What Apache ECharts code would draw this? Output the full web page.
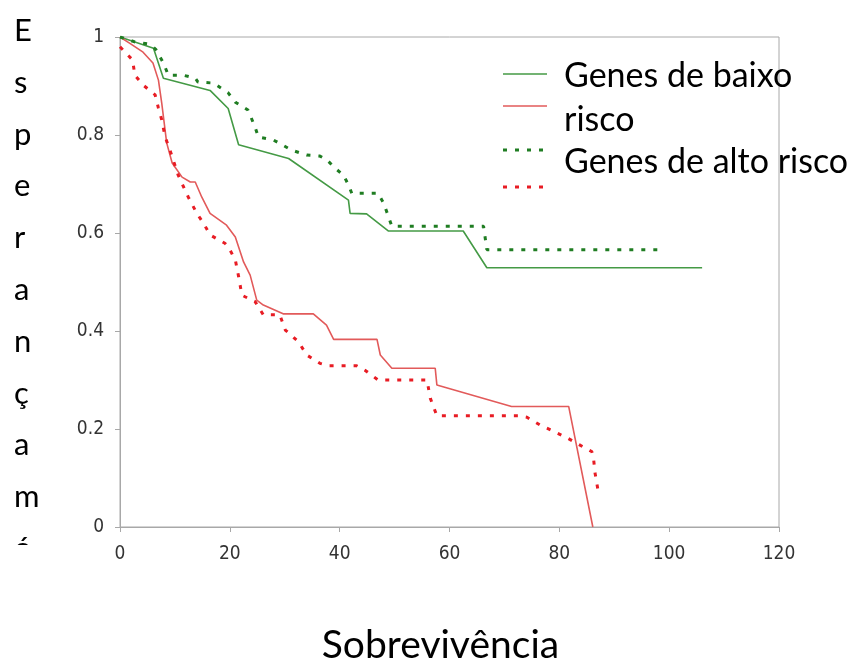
<!DOCTYPE html>
<html>
<head>
<meta charset="utf-8">
<script src="https://cdn.jsdelivr.net/npm/echarts@6/dist/echarts.min.js"></script>
<style>html,body{margin:0;padding:0;background:#fff;overflow:hidden;}#chart{width:853px;height:659px;}</style>
</head>
<body>
<div id="chart"></div>
<script>
// Survival (time, probability) pairs
const lowRiskSolid = [[0,1],[6.1,0.977],[7.9,0.916],[16.4,0.891],[19.7,0.854],[21.6,0.78],[30.7,0.752],[41.6,0.667],[41.9,0.64],[44.9,0.639],[48.9,0.604],[62.5,0.604],[66.8,0.529],[106,0.529]];
const highRiskSolid = [[0,1],[1.8,0.987],[4.2,0.969],[6,0.947],[7,0.912],[7.6,0.865],[8.5,0.784],[9.5,0.743],[11.3,0.714],[12.8,0.704],[13.7,0.704],[14.9,0.673],[16.4,0.64],[19.4,0.616],[21,0.592],[22.5,0.541],[23.7,0.514],[24.9,0.463],[26.1,0.453],[29.7,0.435],[35.2,0.435],[37.6,0.412],[38.9,0.383],[46.8,0.383],[47.4,0.351],[49.5,0.324],[57.4,0.324],[57.7,0.29],[71.3,0.246],[81.7,0.246],[86.1,0]];
const lowRiskDotted = [[0,1],[2.7,0.99],[5.5,0.985],[6.5,0.975],[7.9,0.947],[8.8,0.922],[11.5,0.922],[13.7,0.916],[14.2,0.908],[17,0.906],[19.7,0.886],[21,0.867],[23.3,0.851],[24.6,0.816],[25.2,0.796],[27.9,0.79],[31.3,0.769],[34,0.759],[36.4,0.757],[37.6,0.75],[39.2,0.732],[40.7,0.718],[41.6,0.698],[42.2,0.681],[47,0.681],[48,0.661],[48.9,0.633],[49.5,0.614],[66.2,0.614],[66.8,0.566],[98.7,0.566]];
const highRiskDotted = [[0,0.98],[2.3,0.953],[2.7,0.922],[4.2,0.902],[6.4,0.882],[7,0.855],[7.6,0.831],[8.2,0.797],[9.1,0.769],[10.6,0.718],[12.4,0.674],[14,0.64],[15.2,0.62],[16.4,0.596],[19.1,0.579],[19.7,0.572],[21,0.545],[21.6,0.511],[22.2,0.473],[24.6,0.46],[26.1,0.433],[29.1,0.433],[30.1,0.402],[32.5,0.378],[34,0.351],[36.4,0.334],[37.9,0.329],[43.1,0.329],[44.6,0.32],[47,0.3],[55.9,0.3],[56.5,0.263],[57.7,0.227],[72.6,0.227],[74.1,0.224],[76.5,0.208],[79,0.195],[81.4,0.182],[83.6,0.168],[85.9,0.154],[86.2,0.143],[86.5,0.11],[87,0.078]];
const legendLines = ['Genes de baixo', 'risco', 'Genes de alto risco'];
const yTitleLetters = ['E','s','p','e','r','a','n','ç','a','m','ó'];
const xTitle = 'Sobrevivência';

const GREEN = '#449a45', GREEN_D = '#1f7d22', RED = '#e25a5a', RED_D = '#e81c24';
const AXIS_C = '#a8a8a8';
const labelFont = "'DejaVu Sans Condensed','Liberation Sans Narrow','Liberation Sans',sans-serif";
const textFont = "Lato,'Open Sans',sans-serif";

const chart = echarts.init(document.getElementById('chart'), null, {renderer: 'canvas'});

const legendGraphics = [];
const sampleX0 = 503, sampleX1 = 547;
[[74, GREEN, 'solid'], [106, RED, 'solid'], [150, GREEN_D, 'dot'], [187, RED_D, 'dot']].forEach(([y, c, t]) => {
  legendGraphics.push({
    type: 'line', silent: true,
    shape: {x1: sampleX0, y1: y, x2: sampleX1, y2: y},
    style: t === 'solid' ? {stroke: c, lineWidth: 1.5} : {stroke: c, lineWidth: 3, lineDash: [4, 8]}
  });
});
const legendCenters = [76, 120, 162];
legendLines.forEach((s, i) => {
  legendGraphics.push({
    type: 'text', silent: true, x: 564, y: legendCenters[i],
    style: {text: s, font: "34px " + textFont, fill: '#000', verticalAlign: 'middle'}
  });
});

const yTitleGraphics = yTitleLetters.map((ch, i) => ({
  type: 'text', silent: true, x: 14, y: 31 + i * 51.8,
  style: {text: ch, font: "31px " + textFont, fill: '#000', verticalAlign: 'middle'}
}));
const yTitleMask = {type: 'rect', silent: true, shape: {x: 0, y: 545, width: 60, height: 114}, style: {fill: '#fff'}, z: 10};

chart.setOption({
  animation: false,
  backgroundColor: '#fff',
  grid: {left: 120, right: 74, top: 37, bottom: 132, outerBoundsMode: 'none', containLabel: false, show: true, borderColor: AXIS_C, borderWidth: 1},
  xAxis: {
    type: 'value', min: 0, max: 120, interval: 20,
    name: xTitle, nameLocation: 'middle', nameGap: 99,
    nameTextStyle: {fontFamily: textFont, fontSize: 39, color: '#000', padding: [0, 18, 0, 0]},
    axisLine: {show: true, lineStyle: {color: AXIS_C, width: 1}},
    axisTick: {show: true, length: 5, lineStyle: {color: AXIS_C}},
    splitLine: {show: false},
    axisLabel: {margin: 18, fontFamily: labelFont, fontSize: 19, color: '#333'}
  },
  yAxis: {
    type: 'value', min: 0, max: 1, interval: 0.2,
    axisLine: {show: true, lineStyle: {color: AXIS_C, width: 1}},
    axisTick: {show: true, length: 5, lineStyle: {color: AXIS_C}},
    splitLine: {show: false},
    axisLabel: {margin: 16, fontFamily: labelFont, fontSize: 19, color: '#333'}
  },
  series: [
    {name: 'Genes de baixo risco', type: 'line', data: lowRiskSolid, showSymbol: false, lineStyle: {color: GREEN, width: 1.6}, z: 3},
    {name: 'Genes de alto risco', type: 'line', data: highRiskSolid, showSymbol: false, lineStyle: {color: RED, width: 1.6}, z: 3},
    {name: 'Genes de baixo risco (previsto)', type: 'line', data: lowRiskDotted, showSymbol: false, lineStyle: {color: GREEN_D, width: 3, type: [4, 8]}, z: 4},
    {name: 'Genes de alto risco (previsto)', type: 'line', data: highRiskDotted, showSymbol: false, lineStyle: {color: RED_D, width: 3, type: [4, 8]}, z: 4}
  ],
  graphic: yTitleGraphics.concat([yTitleMask]).concat(legendGraphics)
});
</script>
</body>
</html>
